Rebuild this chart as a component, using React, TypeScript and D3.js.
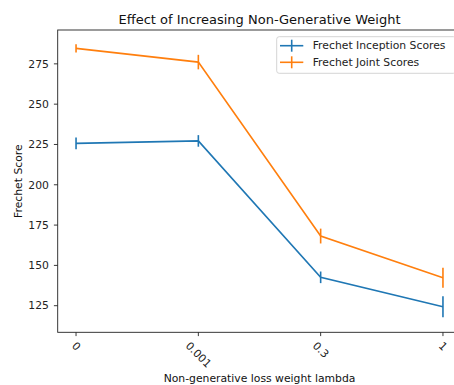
import { useEffect, useRef } from 'react';
import * as d3 from 'd3';

const lambdaLabels = ['0', '0.001', '0.3', '1'];
const inceptionScores = [225.7, 227.2, 142.6, 124.3];
const inceptionErrors = [3.7, 3.6, 3.6, 6.5];
const jointScores = [284.6, 276.1, 168.2, 142.3];
const jointErrors = [2.5, 4.5, 4.6, 6.2];
const yTicks = [125, 150, 175, 200, 225, 250, 275];
const yDomain = [108.5, 296];

const seriesList = [
  { name: 'Frechet Inception Scores', values: inceptionScores, errors: inceptionErrors, color: '#1f77b4' },
  { name: 'Frechet Joint Scores', values: jointScores, errors: jointErrors, color: '#ff7f0e' },
];

const FONT = '"DejaVu Sans", sans-serif';

export default function App() {
  const ref = useRef<SVGSVGElement>(null);

  useEffect(() => {
    const svgElement = ref.current;
    if (!svgElement) {
      return;
    }
    const svg = d3.select(svgElement);
    svg.selectAll('*').remove();

    const width = 454;
    const height = 385;
    const margin = { top: 30, right: -7.3, bottom: 52.7, left: 57.7 };
    const plotBottom = height - margin.bottom;
    const plotRight = width - margin.right;

    const x = d3.scaleLinear().domain([-0.15, lambdaLabels.length - 1 + 0.15]).range([margin.left, plotRight]);
    const y = d3.scaleLinear().domain(yDomain).range([plotBottom, margin.top]);

    // data
    const line = d3
      .line<number>()
      .x((_d, i) => x(i))
      .y((d) => y(d));

    seriesList.forEach((s) => {
      const g = svg.append('g');
      g.append('path')
        .attr('d', line(s.values))
        .attr('fill', 'none')
        .attr('stroke', s.color)
        .attr('stroke-width', 1.6);
      g.selectAll('line')
        .data(s.values)
        .join('line')
        .attr('x1', (_d, i) => x(i))
        .attr('x2', (_d, i) => x(i))
        .attr('y1', (d, i) => y(d - s.errors[i]))
        .attr('y2', (d, i) => y(d + s.errors[i]))
        .attr('stroke', s.color)
        .attr('stroke-width', 1.6);
    });

    // frame
    svg
      .append('rect')
      .attr('x', margin.left)
      .attr('y', margin.top)
      .attr('width', plotRight - margin.left)
      .attr('height', plotBottom - margin.top)
      .attr('fill', 'none')
      .attr('stroke', '#222')
      .attr('stroke-width', 0.9);

    // y axis
    const yAxis = svg.append('g');
    yTicks.forEach((t) => {
      yAxis
        .append('line')
        .attr('x1', margin.left - 3.8)
        .attr('x2', margin.left)
        .attr('y1', y(t))
        .attr('y2', y(t))
        .attr('stroke', '#222')
        .attr('stroke-width', 0.9);
      yAxis
        .append('text')
        .attr('x', margin.left - 8.8)
        .attr('y', y(t))
        .attr('dy', '0.35em')
        .attr('text-anchor', 'end')
        .attr('font-size', 10.8)
        .attr('font-family', FONT)
        .attr('fill', '#222')
        .text(t);
    });

    // x axis, labels turned 45deg clockwise like the original
    const xAxis = svg.append('g');
    lambdaLabels.forEach((label, i) => {
      xAxis
        .append('line')
        .attr('x1', x(i))
        .attr('x2', x(i))
        .attr('y1', plotBottom)
        .attr('y2', plotBottom + 3.8)
        .attr('stroke', '#222')
        .attr('stroke-width', 0.9);
      const text = xAxis
        .append('text')
        .attr('text-anchor', 'middle')
        .attr('dominant-baseline', 'central')
        .attr('font-size', 10.8)
        .attr('font-family', FONT)
        .attr('fill', '#222')
        .text(label);
      const w = (text.node() as SVGTextElement).getComputedTextLength();
      const half = (w + 12.6) / Math.SQRT2 / 2;
      const top = plotBottom + 7.2;
      text.attr('transform', `translate(${x(i)},${top + half}) rotate(45)`);
    });

    // labels
    svg
      .append('text')
      .attr('x', (margin.left + plotRight) / 2)
      .attr('y', 24)
      .attr('text-anchor', 'middle')
      .attr('font-size', 13)
      .attr('font-family', FONT)
      .attr('fill', '#111')
      .text('Effect of Increasing Non-Generative Weight');

    svg
      .append('text')
      .attr('x', (margin.left + plotRight) / 2)
      .attr('y', 381.5)
      .attr('text-anchor', 'middle')
      .attr('font-size', 10.8)
      .attr('font-family', FONT)
      .attr('fill', '#111')
      .text('Non-generative loss weight lambda');

    svg
      .append('text')
      .attr('transform', `translate(21.5,${(margin.top + plotBottom) / 2}) rotate(-90)`)
      .attr('text-anchor', 'middle')
      .attr('font-size', 10.8)
      .attr('font-family', FONT)
      .attr('fill', '#111')
      .text('Frechet Score');

    // legend
    const legend = svg.append('g');
    const boxRight = plotRight - 5.4;
    const boxLeft = 276.7;
    legend
      .append('rect')
      .attr('x', boxLeft)
      .attr('y', 36.7)
      .attr('width', boxRight - boxLeft)
      .attr('height', 36.6)
      .attr('rx', 2.5)
      .attr('fill', 'rgba(255,255,255,0.8)')
      .attr('stroke', '#d0d0d0')
      .attr('stroke-width', 0.9);
    seriesList.forEach((s, i) => {
      const cy = 45.7 + i * 16.6;
      legend
        .append('line')
        .attr('x1', 280)
        .attr('x2', 303.3)
        .attr('y1', cy)
        .attr('y2', cy)
        .attr('stroke', s.color)
        .attr('stroke-width', 1.6);
      legend
        .append('line')
        .attr('x1', 291.7)
        .attr('x2', 291.7)
        .attr('y1', cy - 6)
        .attr('y2', cy + 6)
        .attr('stroke', s.color)
        .attr('stroke-width', 1.6);
      legend
        .append('text')
        .attr('x', 312.7)
        .attr('y', cy)
        .attr('dy', '0.35em')
        .attr('font-size', 10.8)
        .attr('font-family', FONT)
        .attr('fill', '#222')
        .text(s.name);
    });
  }, []);

  return (
    <svg
      ref={ref}
      width={454}
      height={385}
      style={{ position: 'absolute', left: 0, top: 0, background: '#fff', display: 'block' }}
    />
  );
}
